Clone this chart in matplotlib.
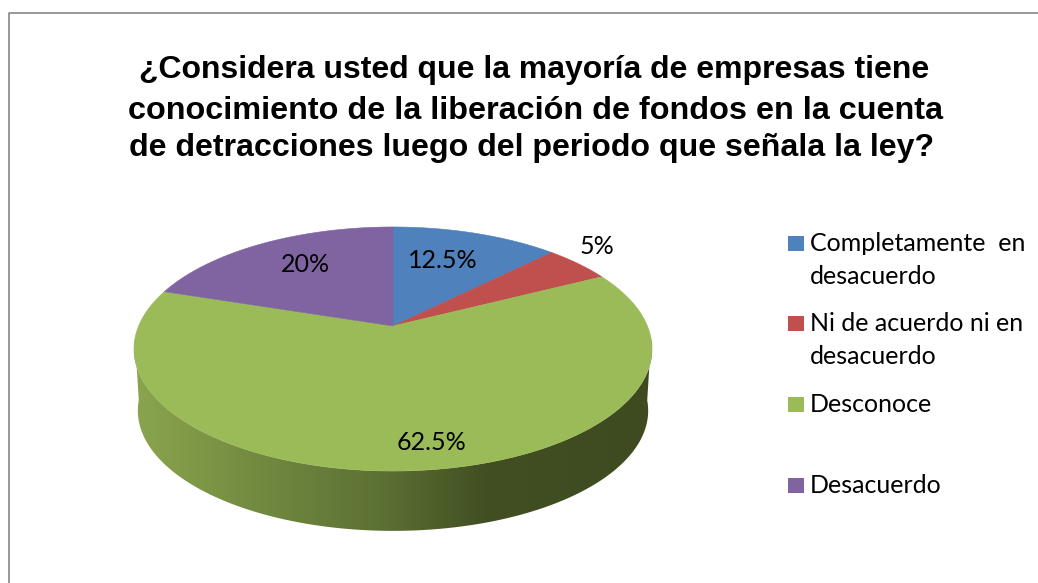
# Pie 3D con perspectiva, dibujado a mano sobre ejes en pixeles
import numpy as np
import matplotlib
matplotlib.use("Agg")
import matplotlib.pyplot as plt
from matplotlib.colors import LinearSegmentedColormap
from matplotlib.patches import Polygon, Rectangle

title_lines = ["¿Considera usted que la mayoría de empresas tiene",
               "conocimiento de la liberación de fondos en la cuenta",
               "de detracciones luego del periodo que señala la ley?"]
categories = ["Completamente  en\ndesacuerdo", "Ni de acuerdo ni en\ndesacuerdo",
              "Desconoce", "Desacuerdo"]
values = [12.5, 5, 62.5, 20]
pct_labels = ["12.5%", "5%", "62.5%", "20%"]

colors = ["#4f81bd", "#c0504d", "#9bbb59", "#8064a2"]
label_pos = [(443, 260), (597, 246), (432, 442), (305, 265)]
legend_y = [243, 323, 404, 485]

# geometria del disco
cx, cy = 393, 326
A, B, p = 254.4, 117.7, 0.1885
depth, shrink = 62, 0.985


def rim(theta, s=1.0, dy=0.0):
    w = 1 + p * np.cos(theta)
    return cx + s * A * np.sin(theta) / w, cy + dy - s * B * np.cos(theta) / w


plt.rcParams['font.family'] = ['Lato', 'DejaVu Sans']
fig = plt.figure(figsize=(10.38, 5.83), dpi=100)
ax = fig.add_axes([0, 0, 1, 1])

# marco gris, abierto por abajo y a la derecha
ax.plot([8.5, 8.5, 1038], [583, 13, 13], color="#868686", lw=1.2)

# lado del cilindro con degradado
arc = np.linspace(np.radians(264), np.radians(96), 300)
xa, ya = rim(arc)
xb, yb = rim(arc[::-1], shrink, depth)
outline = np.column_stack([np.r_[xa, xb], np.r_[ya, yb]])
side_cmap = LinearSegmentedColormap.from_list("side", [
    (0.00, "#8aa54e"), (0.24, "#728a40"), (0.48, "#5c7034"),
    (0.68, "#414f22"), (1.00, "#3e4b21")])
grad = ax.imshow(np.linspace(0, 1, 512).reshape(1, -1), cmap=side_cmap, aspect="auto",
                 extent=[134, 652, 540, 340], zorder=1)
side = Polygon(outline, closed=True, transform=ax.transData, fc="none", ec="none")
ax.add_patch(side)
grad.set_clip_path(side)

# cara superior
edges = np.r_[0, np.cumsum(values)] / np.sum(values) * 2 * np.pi
for i, c in enumerate(colors):
    th = np.linspace(edges[i], edges[i + 1], 200)
    xs, ys = rim(th)
    pts = np.column_stack([np.r_[cx, xs], np.r_[cy, ys]])
    ax.add_patch(Polygon(pts, closed=True, fc=c, ec=c, lw=0.4, zorder=2))

for lab, (lx, ly) in zip(pct_labels, label_pos):
    ax.text(lx, ly, lab, ha="center", va="center", fontsize=18, color="black", zorder=3)

# titulo
title_x = [534, 536, 532]
title_y = [70, 111, 148]
title_size = [23, 23.3, 23.1]
for line, tx, ty, ts in zip(title_lines, title_x, title_y, title_size):
    ax.text(tx, ty, line, ha="center", va="center", fontsize=ts, fontweight="bold",
            family=["Liberation Sans", "DejaVu Sans"], color="black")

# leyenda
for lab, c, ly in zip(categories, colors, legend_y):
    ax.add_patch(Rectangle((788, ly - 7.5), 15.5, 15, fc=c, ec="none"))
    ax.text(810, ly - 11, lab, ha="left", va="top", fontsize=18, color="black",
            linespacing=1.54)

ax.set_xlim(0, 1038)
ax.set_ylim(583, 0)
ax.axis("off")
fig.savefig("out.png", dpi=100, facecolor="white")
